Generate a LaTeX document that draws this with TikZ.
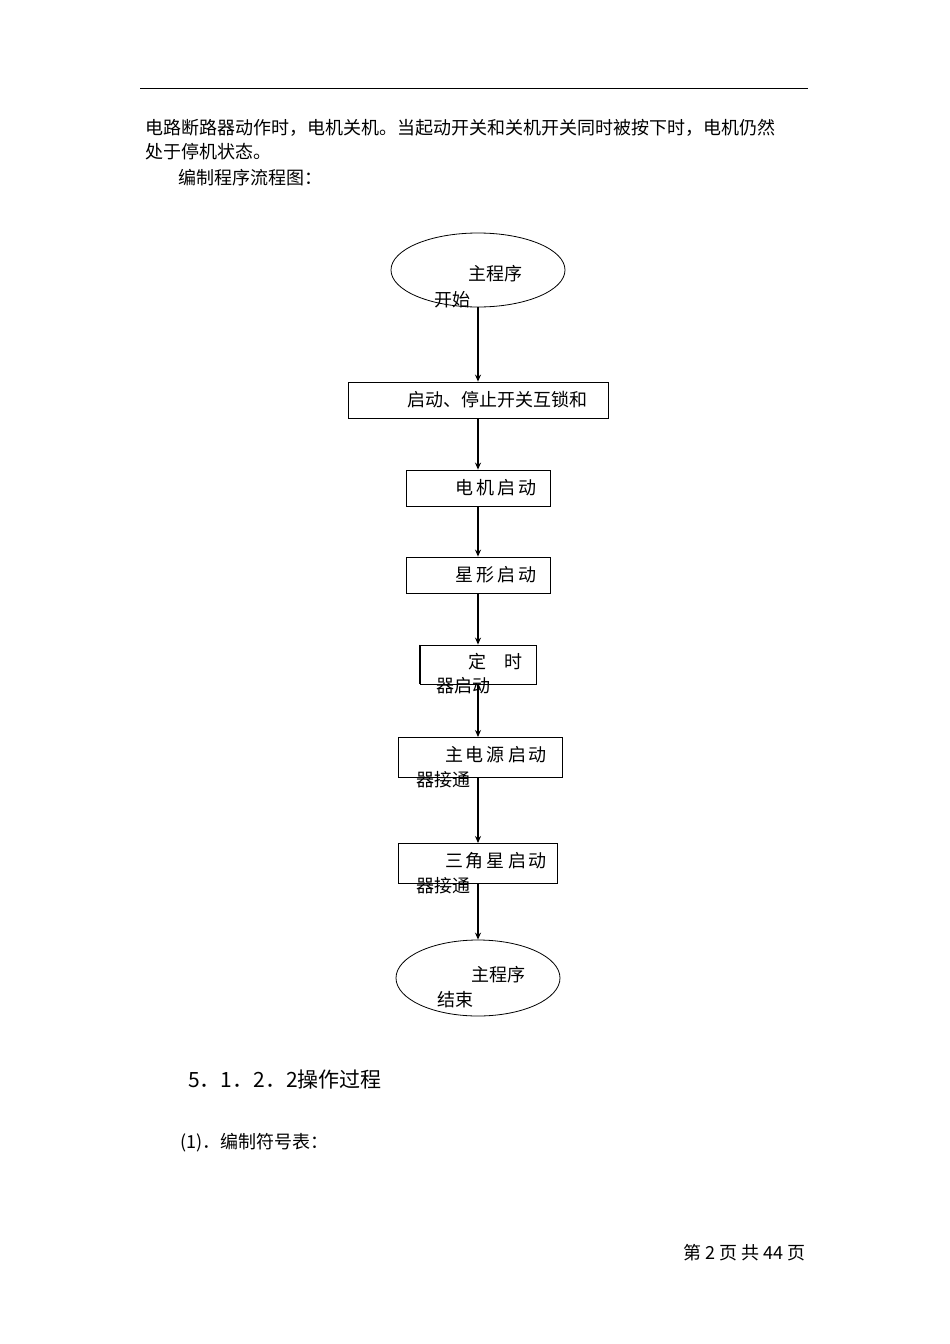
\documentclass[tikz,border=0pt]{standalone}
\usepackage{fontspec}
\newfontfamily\cjk{Noto Sans CJK SC}
\usetikzlibrary{arrows.meta,shapes.geometric}
\begin{document}
\begin{tikzpicture}[x=1pt,y=-1pt,
  txt/.style={font=\cjk\fontsize{18}{20}\selectfont,inner sep=0,anchor=west},
  ctxt/.style={font=\cjk\fontsize{18}{20}\selectfont,inner sep=0},
  box/.style={draw,line width=0.8pt},
  arr/.style={line width=1.2pt,-{Stealth[length=7pt,width=6pt]}}]
\useasboundingbox (0,0) rectangle (950,1344);
\draw[line width=0.8pt] (140,88) -- (808,88);
\node[txt] (t1) at (145,128) {电路断路器动作时，电机关机。当起动开关和关机开关同时被按下时，电机仍然};
\node[txt] (t2) at (145,152) {处于停机状态。};
\node[txt] (t3) at (178,178) {编制程序流程图：};
% flowchart
\node[box,ellipse,minimum width=174,minimum height=74] (e1) at (478,270) {};
\node[ctxt] at (495,274) {主程序};
\node[ctxt] at (452,300) {开始};
\node[box,minimum width=260,minimum height=36] (b1) at (478,400) {};
\node[ctxt] at (497,400) {启动、停止开关互锁和};
\node[box,minimum width=144,minimum height=36] (b2) at (478,488) {};
\node[ctxt] at (496,488) {电\,机\,启\,动};
\node[box,minimum width=144,minimum height=36] (b3) at (478,575) {};
\node[ctxt] at (496,575) {星\,形\,启\,动};
\node[box,minimum width=116,minimum height=39] (b4) at (478,664.5) {};
\draw[line width=1.6pt] (b4.north west) -- (b4.south west);
\node[ctxt] at (495,662) {定\quad 时};
\node[ctxt] at (463,686) {器启动};
\node[box,minimum width=164,minimum height=40] (b5) at (480,757) {};
\node[ctxt] at (496,755) {主\,电\,源\,启\,动};
\node[ctxt] at (443,780) {器接通};
\node[box,minimum width=159,minimum height=40] (b6) at (477.5,863) {};
\node[ctxt] at (496,861) {三\,角\,星\,启\,动};
\node[ctxt] at (443,886) {器接通};
\node[box,ellipse,minimum width=164,minimum height=76] (e2) at (478,978) {};
\node[ctxt] at (498,975) {主程序};
\node[ctxt] at (455,1000) {结束};
\draw[arr] (e1.south) -- (b1.north);
\draw[arr] (b1.south) -- (b2.north);
\draw[arr] (b2.south) -- (b3.north);
\draw[arr] (b3.south) -- (b4.north);
\draw[arr] (478,684) -- (478,737);
\draw[arr] (478,777) -- (478,843);
\draw[arr] (478,883) -- (e2.north);
\node[txt,font=\cjk\fontsize{21}{24}\selectfont] (h) at (188,1080) {5．1．2．2操作过程};
\node[txt] (p) at (180,1143) {(1)．编制符号表：};
\node[txt,anchor=east] (f) at (806,1253) {第 2 页 共 44 页};
\end{tikzpicture}
\end{document}
